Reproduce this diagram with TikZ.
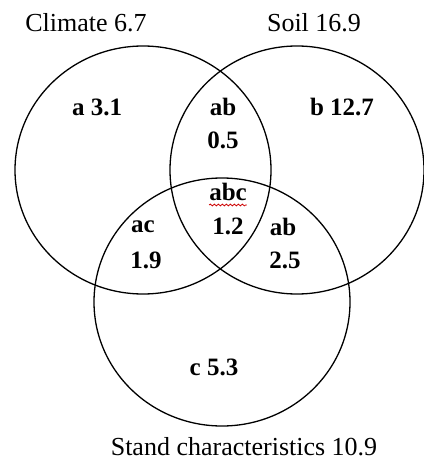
\documentclass[tikz,border=0pt]{standalone}
\usepackage{fontspec}
\setmainfont{Liberation Serif}
\usetikzlibrary{positioning,decorations.pathmorphing}

\begin{document}
\begin{tikzpicture}[x=1pt, y=-1pt,
    ring/.style={draw, line width=1.3pt},
    ttl/.style={font=\fontsize{26}{28}\selectfont, inner sep=0pt},
    val/.style={font=\fontsize{25}{28}\selectfont\bfseries, inner sep=0pt},
    squig/.style={draw=red!80!black, line width=0.8pt,
      decorate, decoration={snake, amplitude=0.9pt, segment length=4pt}}]
  \useasboundingbox (0,0) rectangle (423,462);
  % === Circle centres ===
  \coordinate (cA) at (143,170);
  \coordinate (cB) at (297,170);
  \coordinate (cC) at (222,302);
  % === Circles ===
  \draw[ring] (cA) ellipse [x radius=128, y radius=124];
  \draw[ring] (cB) ellipse [x radius=127, y radius=124];
  \draw[ring] (cC) ellipse [x radius=128, y radius=124];
  % === Titles ===
  \node[ttl] (clim)  at (86,23)   {Climate 6.7};
  \node[ttl] (soil)  at (314,23)  {Soil 16.9};
  \node[ttl] (stand) at (244,447) {Stand characteristics 10.9};
  % === Region values ===
  \node[val] (a)    at (97,107)  {a 3.1};
  \node[val] (ab)   at (223,107) {ab};
  \node[val] (abv)  at (223,140) {0.5};
  \node[val] (b)    at (342,107) {b 12.7};
  \node[val] (abc)  at (228,192) {abc};
  \node[val] (abcv) at (228,226) {1.2};
  \node[val] (ac)   at (143,227) {ac};
  \node[val] (acv)  at (146,260) {1.9};
  \node[val] (bc)   at (283,227) {ab};
  \node[val] (bcv)  at (285,260) {2.5};
  \node[val] (c)    at (214,367) {c 5.3};
  % === Spell-check underline ===
  \draw[squig] ([yshift=-4pt]abc.south west) -- ([yshift=-4pt]abc.south east);
\end{tikzpicture}
\end{document}
